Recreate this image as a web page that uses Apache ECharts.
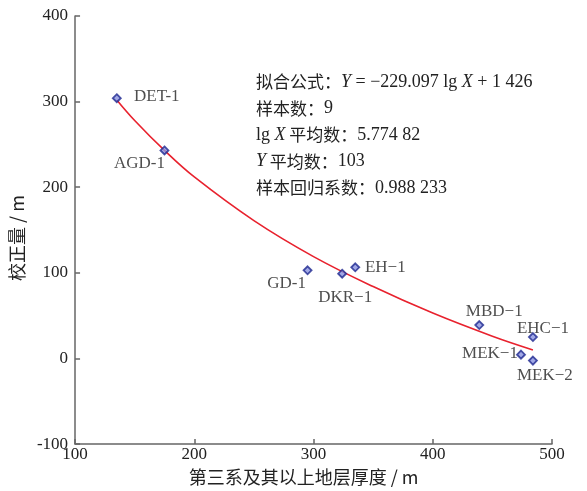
<!DOCTYPE html>
<html>
<head>
<meta charset="utf-8">
<script src="https://cdn.jsdelivr.net/npm/echarts@6/dist/echarts.min.js"></script>
<style>html,body{margin:0;padding:0;background:#fff;}#c{width:587px;height:491px;}</style>
</head>
<body>
<div id="c"></div>
<script>
// ---- data ----
var wellNames = ['DET-1', 'AGD-1', 'GD-1', 'DKR\u22121', 'EH\u22121', 'MBD\u22121', 'EHC\u22121', 'MEK\u22121', 'MEK\u22122'];
var wellX = [135, 175, 295, 324, 335, 439, 484, 474, 484];
var wellY = [304, 243, 103, 99, 106.5, 39, 25, 4.5, -2.5];
var fitX = [135, 150, 175, 200, 250, 300, 350, 400, 450, 484];
var fitY = [302, 278, 243, 212, 161, 119, 84, 53, 26, 10];
var xTicks = [100, 200, 300, 400, 500];
var yTicks = [-100, 0, 100, 200, 300, 400];

// label offsets (style only)
var labelOffsets = [[40, -2], [-25, 13], [-21, 13], [3, 24], [30, 0], [15, -14], [10, -9], [-31, -1], [12, 15]];

var serif = 'Liberation Serif';
var cjk = 'Noto Sans CJK SC';
var txt = '#222';

var scatterData = wellNames.map(function (n, i) {
  return {
    name: n,
    value: [wellX[i], wellY[i]],
    label: {
      show: true, position: 'inside', offset: labelOffsets[i], formatter: n,
      color: txt, textBorderWidth: 0, fontFamily: serif, fontSize: 17
    }
  };
});
var fitData = fitX.map(function (x, i) { return [x, fitY[i]]; });

var chart = echarts.init(document.getElementById('c'));
var axisCommon = {
  axisLine: { show: true, onZero: false, lineStyle: { color: '#666', width: 1.5 } },
  axisTick: { show: true, inside: true, length: 5, lineStyle: { color: '#666', width: 1.5 } },
  splitLine: { show: false },
  axisLabel: { color: txt, fontFamily: serif, fontSize: 17 }
};
chart.setOption({
  animation: false,
  grid: { left: 72, right: 35, top: 16, bottom: 44, containLabel: false },
  xAxis: Object.assign({}, axisCommon, {
    type: 'value', min: xTicks[0], max: xTicks[xTicks.length - 1], interval: 100,
    name: '第三系及其以上地层厚度 / m', nameLocation: 'middle', nameGap: 15,
    nameTextStyle: { color: txt, fontFamily: cjk, fontSize: 18, padding: [0, 20, 0, 0] },
    axisLabel: Object.assign({}, axisCommon.axisLabel, { margin: 2 })
  }),
  yAxis: Object.assign({}, axisCommon, {
    type: 'value', min: yTicks[0], max: yTicks[yTicks.length - 1], interval: 100,
    name: '校正量 / m', nameLocation: 'middle', nameGap: 41,
    nameTextStyle: { color: txt, fontFamily: cjk, fontSize: 18, padding: [0, 16, 0, 0] },
    axisLabel: Object.assign({}, axisCommon.axisLabel, { margin: 7 })
  }),
  series: [
    {
      type: 'line', data: fitData, smooth: 0.4, symbol: 'none',
      lineStyle: { color: '#e8222e', width: 1.6 }, z: 2
    },
    {
      type: 'scatter', data: scatterData, symbol: 'diamond', symbolSize: 8,
      itemStyle: { color: '#8a92e0', borderColor: '#1e2890', borderWidth: 1.8 },
      label: { color: txt, fontFamily: serif, fontSize: 17, align: 'center', verticalAlign: 'middle' },
      z: 3
    }
  ],
  graphic: (function () {
    var rich = {
      c: { fontFamily: cjk, fontSize: 17, fill: txt },
      n: { fontFamily: serif, fontSize: 18, fill: txt },
      i: { fontFamily: serif, fontSize: 18, fontStyle: 'italic', fill: txt }
    };
    var lines = [
      '{c|拟合公式：}{i|Y}{n| = \u2212229.097 lg }{i|X}{n| + 1 426}',
      '{c|样本数：}{n|9}',
      '{n|lg }{i|X}{c| 平均数：}{n|5.774 82}',
      '{i|Y}{c| 平均数：}{n|103}',
      '{c|样本回归系数：}{n|0.988 233}'
    ];
    return lines.map(function (t, k) {
      return {
        type: 'text', left: 256, top: 73 + k * 26.5,
        style: { text: t, rich: rich, fill: txt }
      };
    });
  })()
});
</script>
</body>
</html>
